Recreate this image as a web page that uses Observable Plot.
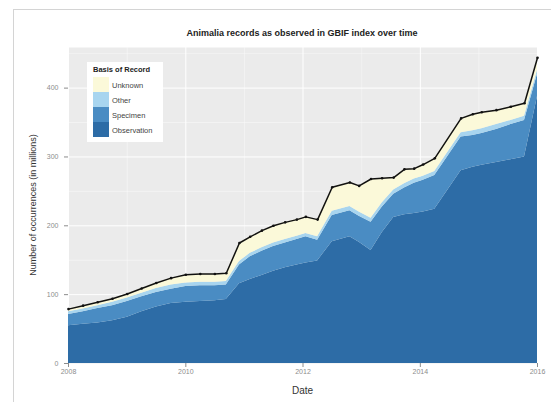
<!DOCTYPE html>
<html>
<head>
<meta charset="utf-8">
<script src="https://cdn.jsdelivr.net/npm/d3@7"></script>
<script src="https://cdn.jsdelivr.net/npm/@observablehq/plot@0.6"></script>
<style>
  html, body { margin: 0; padding: 0; background: #fff; }
  #wrap { position: relative; width: 551px; height: 402px; overflow: hidden; font-family: "Liberation Sans", Arial, sans-serif; }
  #wrap svg { position: absolute; left: 0; top: 0; }
  .txt { position: absolute; white-space: nowrap; line-height: 1; }
  #border { position: absolute; left: 13px; top: 9px; width: 560px; height: 420px; border-left: 1px solid #d4d4d4; border-top: 1px solid #d4d4d4; }
  #title { left: 0; width: 604px; text-align: center; top: 29px; font-weight: bold; font-size: 9px; color: #222; }
  #xtitle { left: 0; width: 605px; text-align: center; top: 386px; font-size: 10px; color: #333; }
  #ytitle { left: 33px; top: 205px; font-size: 9px; color: #333; transform: translate(-50%, -50%) rotate(-90deg); }
  #legend { position: absolute; left: 87px; top: 62px; width: 76px; height: 80px; background: #fff; }
  #legend .lt { position: absolute; left: 6px; top: 3px; font-weight: bold; font-size: 7.5px; color: #222; white-space: nowrap; }
  #legend .key { position: absolute; left: 6px; width: 16px; height: 15px; }
  #legend .lab { position: absolute; left: 25px; font-size: 7.5px; color: #444; white-space: nowrap; }
</style>
</head>
<body>
<div id="wrap">
  <div id="border"></div>
  <div id="chart"></div>
  <div id="title" class="txt"></div>
  <div id="xtitle" class="txt"></div>
  <div id="ytitle" class="txt"></div>
  <div id="legend"></div>
</div>
<script>
// ---- data (millions of occurrences) ----
const titleText = "Animalia records as observed in GBIF index over time";
const xLabel = "Date";
const yLabel = "Number of occurrences (in millions)";
const legendTitle = "Basis of Record";

const dates = [
  "2008-01-01","2008-04-01","2008-07-01","2008-10-01","2009-01-01","2009-04-01","2009-07-01","2009-10-01",
  "2010-01-01","2010-04-01","2010-07-01","2010-09-10","2010-12-01","2011-02-06","2011-04-20","2011-07-01",
  "2011-09-12","2011-11-24","2012-01-19","2012-04-01","2012-07-01","2012-10-19","2012-12-16","2013-02-28",
  "2013-05-08","2013-07-19","2013-09-24","2013-11-24","2014-01-19","2014-04-01","2014-09-12","2014-11-24",
  "2015-01-19","2015-04-20","2015-07-19","2015-10-12","2016-01-01"
];
const observation = [55,57,59,62,67,75,82,87, 89,90,91,93,116,122,128,134, 139,143,146,149,177,184,176,164, 190,212,216,218,220,224,280,285, 288,292,296,300,388];
const specimen    = [16,18,21,22,23,22,21,21, 23,23,22,21,27,33,35,36, 36,37,38,30,38,38,38,41, 37,34,39,44,46,49,49,46, 46,48,51,53,32];
const other       = [4,4,4,5,5,5,6,6, 5,5,5,5,5,5,5,5, 5,5,5,5,6,6,6,6, 6,6,6,6,6,6,6,7, 7,7,6,6,6];
const unknown     = [4,5,5,5,6,7,8,10, 12,12,12,12,27,24,25,25, 25,24,24,25,35,35,38,57, 36,18,21,15,17,19,21,24, 24,21,20,19,18];

const seriesNames = ["Observation","Specimen","Other","Unknown"];
const seriesColors = ["#2d6ca6","#4a8cc3","#a8d5ef","#fbf9d9"];
const legendOrder = ["Unknown","Other","Specimen","Observation"];

const yTicks = [0,100,200,300,400];
const yMinor = [50,150,250,350,450];
const xTickYears = ["2008","2010","2012","2014","2016"];
const xMinorYears = ["2009","2011","2013","2015"];
const yMax = 459;

// ---- build tables ----
const seriesValues = {Observation: observation, Specimen: specimen, Other: other, Unknown: unknown};
const parse = d3.utcParse("%Y-%m-%d");
const rows = [];
dates.forEach((d, i) => {
  seriesNames.forEach(s => rows.push({date: parse(d), series: s, value: seriesValues[s][i]}));
});
const totals = dates.map((d, i) => ({date: parse(d), total: seriesNames.reduce((a, s) => a + seriesValues[s][i], 0)}));
const yearDate = y => d3.utcParse("%Y")(y);

const chart = Plot.plot({
  width: 551,
  height: 402,
  marginLeft: 68,
  marginRight: 14,
  marginTop: 47,
  marginBottom: 39,
  style: {fontFamily: "'Liberation Sans', Arial, sans-serif", background: "transparent", overflow: "visible"},
  x: {type: "utc", domain: [yearDate("2008"), yearDate("2016")]},
  y: {domain: [0, yMax]},
  color: {domain: seriesNames, range: seriesColors},
  marks: [
    Plot.frame({fill: "#ebebeb", stroke: "none"}),
    Plot.gridY(yMinor, {stroke: "#fafafa", strokeOpacity: 1, strokeWidth: 0.5}),
    Plot.gridX(xMinorYears.map(yearDate), {stroke: "#fafafa", strokeOpacity: 1, strokeWidth: 0.5}),
    Plot.gridY(yTicks.filter(v => v > 0), {stroke: "#ffffff", strokeOpacity: 1, strokeWidth: 1}),
    Plot.gridX(xTickYears.map(yearDate), {stroke: "#ffffff", strokeOpacity: 1, strokeWidth: 1}),
    Plot.areaY(rows, {x: "date", y: "value", fill: "series", z: "series", order: seriesNames}),
    Plot.lineY(totals, {x: "date", y: "total", stroke: "#111", strokeWidth: 1.5}),
    Plot.dot(totals, {x: "date", y: "total", r: 1.3, fill: "#111", stroke: "none"}),
    Plot.axisY(yTicks, {tickSize: 4, tickPadding: 6, fontSize: 7, color: "#8c8c8c", label: null}),
    Plot.axisX(xTickYears.map(yearDate), {tickSize: 4, tickPadding: 2, fontSize: 7, color: "#8c8c8c", tickFormat: d3.utcFormat("%Y"), label: null})
  ]
});
document.getElementById("chart").appendChild(chart);

document.getElementById("title").textContent = titleText;
document.getElementById("xtitle").textContent = xLabel;
document.getElementById("ytitle").textContent = yLabel;

// legend (HTML), colours from the same colour table
const legend = document.getElementById("legend");
const lt = document.createElement("div");
lt.className = "lt";
lt.textContent = legendTitle;
legend.appendChild(lt);
legendOrder.forEach((s, i) => {
  const k = document.createElement("div");
  k.className = "key";
  k.style.top = (15 + i * 15) + "px";
  k.style.background = seriesColors[seriesNames.indexOf(s)];
  legend.appendChild(k);
  const l = document.createElement("div");
  l.className = "lab";
  l.style.top = (19 + i * 15) + "px";
  l.textContent = s;
  legend.appendChild(l);
});
</script>
</body>
</html>
